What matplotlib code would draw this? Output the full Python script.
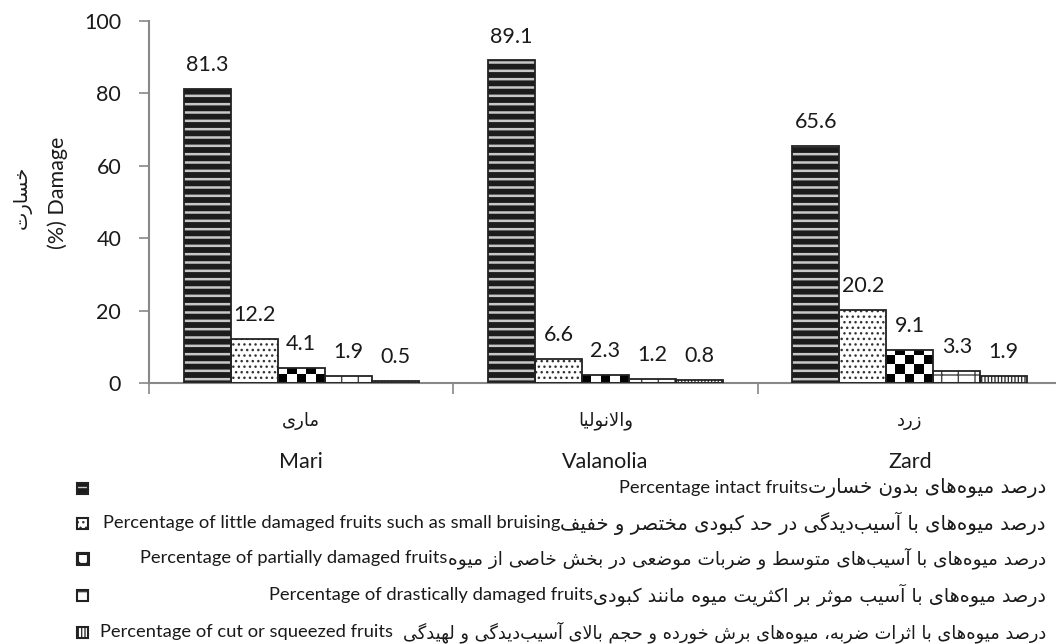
import numpy as np
import matplotlib
matplotlib.use('Agg')
import matplotlib.pyplot as plt
from matplotlib.patches import Rectangle

# data
categories_fa = ['ماری', 'والانولیا', 'زرد']
categories_en = ['Mari', 'Valanolia', 'Zard']
intact = [81.3, 89.1, 65.6]
little = [12.2, 6.6, 20.2]
partial = [4.1, 2.3, 9.1]
drastic = [1.9, 1.2, 3.3]
cut = [0.5, 0.8, 1.9]
series = [intact, little, partial, drastic, cut]
yticks = [0, 20, 40, 60, 80, 100]

legend_en = ['Percentage intact fruits',
             'Percentage of little damaged fruits such as small bruising',
             'Percentage of partially damaged fruits',
             'Percentage of drastically damaged fruits',
             'Percentage of cut or squeezed fruits']
legend_fa = ['درصد میوه‌های بدون خسارت',
             'درصد میوه‌های با آسیب‌دیدگی در حد کبودی مختصر و خفیف',
             'درصد میوه‌های با آسیب‌های متوسط و ضربات موضعی در بخش خاصی از میوه',
             'درصد میوه‌های با آسیب موثر بر اکثریت میوه مانند کبودی',
             'درصد میوه‌های با اثرات ضربه، میوه‌های برش خورده و حجم بالای آسیب‌دیدگی و لهیدگی']
ylabel_fa = 'خسارت'
ylabel_en = '(%) Damage'

# matplotlib does not join arabic letters, so pick the presentation forms by hand
# (isolated, final, initial, medial)
FORMS = {
    'ا': ('\uFE8D', '\uFE8E', None, None), 'آ': ('\uFE81', '\uFE82', None, None),
    'ب': ('\uFE8F', '\uFE90', '\uFE91', '\uFE92'), 'پ': ('\uFB56', '\uFB57', '\uFB58', '\uFB59'),
    'ت': ('\uFE95', '\uFE96', '\uFE97', '\uFE98'), 'ث': ('\uFE99', '\uFE9A', '\uFE9B', '\uFE9C'),
    'ج': ('\uFE9D', '\uFE9E', '\uFE9F', '\uFEA0'), 'چ': ('\uFB7A', '\uFB7B', '\uFB7C', '\uFB7D'),
    'ح': ('\uFEA1', '\uFEA2', '\uFEA3', '\uFEA4'), 'خ': ('\uFEA5', '\uFEA6', '\uFEA7', '\uFEA8'),
    'د': ('\uFEA9', '\uFEAA', None, None), 'ذ': ('\uFEAB', '\uFEAC', None, None),
    'ر': ('\uFEAD', '\uFEAE', None, None), 'ز': ('\uFEAF', '\uFEB0', None, None),
    'ژ': ('\uFB8A', '\uFB8B', None, None),
    'س': ('\uFEB1', '\uFEB2', '\uFEB3', '\uFEB4'), 'ش': ('\uFEB5', '\uFEB6', '\uFEB7', '\uFEB8'),
    'ص': ('\uFEB9', '\uFEBA', '\uFEBB', '\uFEBC'), 'ض': ('\uFEBD', '\uFEBE', '\uFEBF', '\uFEC0'),
    'ط': ('\uFEC1', '\uFEC2', '\uFEC3', '\uFEC4'), 'ظ': ('\uFEC5', '\uFEC6', '\uFEC7', '\uFEC8'),
    'ع': ('\uFEC9', '\uFECA', '\uFECB', '\uFECC'), 'غ': ('\uFECD', '\uFECE', '\uFECF', '\uFED0'),
    'ف': ('\uFED1', '\uFED2', '\uFED3', '\uFED4'), 'ق': ('\uFED5', '\uFED6', '\uFED7', '\uFED8'),
    'ک': ('\uFB8E', '\uFB8F', '\uFB90', '\uFB91'), 'گ': ('\uFB92', '\uFB93', '\uFB94', '\uFB95'),
    'ل': ('\uFEDD', '\uFEDE', '\uFEDF', '\uFEE0'), 'م': ('\uFEE1', '\uFEE2', '\uFEE3', '\uFEE4'),
    'ن': ('\uFEE5', '\uFEE6', '\uFEE7', '\uFEE8'), 'و': ('\uFEED', '\uFEEE', None, None),
    'ه': ('\uFEE9', '\uFEEA', '\uFEEB', '\uFEEC'), 'ی': ('\uFBFC', '\uFBFD', '\uFBFE', '\uFBFF'),
}
LAM_ALEF = {'ا': ('\uFEFB', '\uFEFC'), 'آ': ('\uFEF5', '\uFEF6')}


def joins_next(c):
    return c in FORMS and FORMS[c][2] is not None


def shape_fa(s):
    out = []
    i = 0
    n = len(s)
    while i < n:
        c = s[i]
        if c == '\u200c':
            i += 1
            continue
        if c not in FORMS:
            out.append(c)
            i += 1
            continue
        conn_prev = i > 0 and joins_next(s[i - 1])
        if c == 'ل' and i + 1 < n and s[i + 1] in LAM_ALEF:
            lig = LAM_ALEF[s[i + 1]]
            out.append(lig[1] if conn_prev else lig[0])
            i += 2
            continue
        conn_next = joins_next(c) and i + 1 < n and s[i + 1] in FORMS
        iso, fin, ini, med = FORMS[c]
        if conn_prev and conn_next:
            out.append(med)
        elif conn_prev:
            out.append(fin)
        elif conn_next:
            out.append(ini)
        else:
            out.append(iso)
        i += 1
    return ''.join(reversed(out))


EN = 'Lato'
FA = 'DejaVu Sans'
TXT = '#1a1a1a'
W, H = 1056, 644

fig = plt.figure(figsize=(W / 100, H / 100), dpi=100)
ax = fig.add_axes([149 / W, 1 - 383 / H, 913 / W, 362 / H])

x = np.arange(len(categories_en))
bw = 0.1544
styles = [
    dict(facecolor='#1c1c1c', hatch='--', hatchcolor='#c8c8c8', hlw=1.8),
    dict(facecolor='white', hatch='...', hatchcolor='#333333', hlw=1.0),
    dict(facecolor='white', hatch=None, hatchcolor=None, hlw=1.0),
    dict(facecolor='white', hatch='+', hatchcolor='#444444', hlw=1.0),
    dict(facecolor='white', hatch='|||||', hatchcolor='#333333', hlw=1.0),
]

for k, vals in enumerate(series):
    st = styles[k]
    pos = x + (k - 2) * bw
    plt.rcParams['hatch.linewidth'] = st['hlw']
    base = ax.bar(pos, vals, bw, color=st['facecolor'], edgecolor=st['hatchcolor'] or 'none',
                  linewidth=0, hatch=st['hatch'], zorder=2)
    if k == 2:
        # checkerboard fill
        cell_y = (bw / 5 * 304.3) / 3.62
        for rect, p, v in zip(base, pos, vals):
            rows = int(np.ceil(v / cell_y))
            board = np.indices((rows, 5)).sum(axis=0) % 2
            im = ax.imshow(board, cmap='gray', extent=[p - bw / 2, p + bw / 2, 0, rows * cell_y],
                           origin='lower', aspect='auto', interpolation='nearest', zorder=2)
            im.set_clip_path(rect)
    ax.bar(pos, vals, bw, color='none', edgecolor='#222222', linewidth=1.3, zorder=3)
    for p, v in zip(pos, vals):
        ax.annotate(f'{v}', (p, v), xytext=(0, 10), textcoords='offset points',
                    ha='center', va='bottom', fontsize=15.5, family=EN, color=TXT)

ax.set_xlim(-0.5, 2.5)
ax.set_ylim(0, 100)
ax.set_yticks(yticks)
ax.set_yticklabels([str(t) for t in yticks], family=EN, fontsize=15.5, color=TXT)
ax.tick_params(axis='y', direction='out', length=7, width=1.2, color='#888888', pad=13)
ax.set_xticks([-0.5, 0.5, 1.5, 2.5])
ax.set_xticklabels([])
ax.tick_params(axis='x', direction='out', length=8, width=1.2, color='#888888')
for s in ['top', 'right']:
    ax.spines[s].set_visible(False)
for s in ['left', 'bottom']:
    ax.spines[s].set_color('#888888')
    ax.spines[s].set_linewidth(1.5)

tr = ax.get_xaxis_transform()
for i in range(len(x)):
    ax.text(x[i], -38 / 362, shape_fa(categories_fa[i]), transform=tr, ha='center', va='center',
            family=FA, fontsize=13, color=TXT)
    ax.text(x[i], -79 / 362, categories_en[i], transform=tr, ha='center', va='center',
            family=EN, fontsize=15.5, color=TXT)

fig.text(22 / W, 1 - 197 / H, shape_fa(ylabel_fa), rotation=90, ha='center', va='center',
         family=FA, fontsize=14, color=TXT)
fig.text(58 / W, 1 - 193 / H, ylabel_en, rotation=90, ha='center', va='center',
         family=EN, fontsize=15.5, color=TXT)

# legend, right aligned like the original, with the pattern squares at the left
line_y = [488, 523, 558, 595, 632]
fa_size = [14.2, 14.1, 13.3, 13.8, 12.8]
gaps = [0, 0, 0, 0, 10]
for k in range(5):
    yy = 1 - line_y[k] / H
    fa = fig.text(1046 / W, yy, shape_fa(legend_fa[k]), ha='right', va='center',
                  family=FA, fontsize=fa_size[k], color=TXT)
    ax.annotate(legend_en[k], xy=(0, 0.5), xycoords=fa, xytext=(-gaps[k], 0),
                textcoords='offset pixels', ha='right', va='center', family=EN,
                fontsize=13.2, color=TXT, annotation_clip=False)
    st = styles[k]
    plt.rcParams['hatch.linewidth'] = 1.0
    if k == 2:
        sq = Rectangle((77 / W, 1 - (line_y[k] + 5.5) / H), 11 / W, 11 / H, transform=fig.transFigure,
                       facecolor='white', edgecolor='#222222', linewidth=2.2, hatch='xx')
        fig.add_artist(sq)
    else:
        fig.add_artist(Rectangle((77 / W, 1 - (line_y[k] + 5.5) / H), 11 / W, 11 / H,
                                 transform=fig.transFigure, facecolor=st['facecolor'],
                                 edgecolor=st['hatchcolor'], linewidth=0, hatch=st['hatch']))
    fig.add_artist(Rectangle((77 / W, 1 - (line_y[k] + 5.5) / H), 11 / W, 11 / H,
                             transform=fig.transFigure, facecolor='none',
                             edgecolor='#222222', linewidth=1.5))

plt.savefig('out.png', dpi=100)
